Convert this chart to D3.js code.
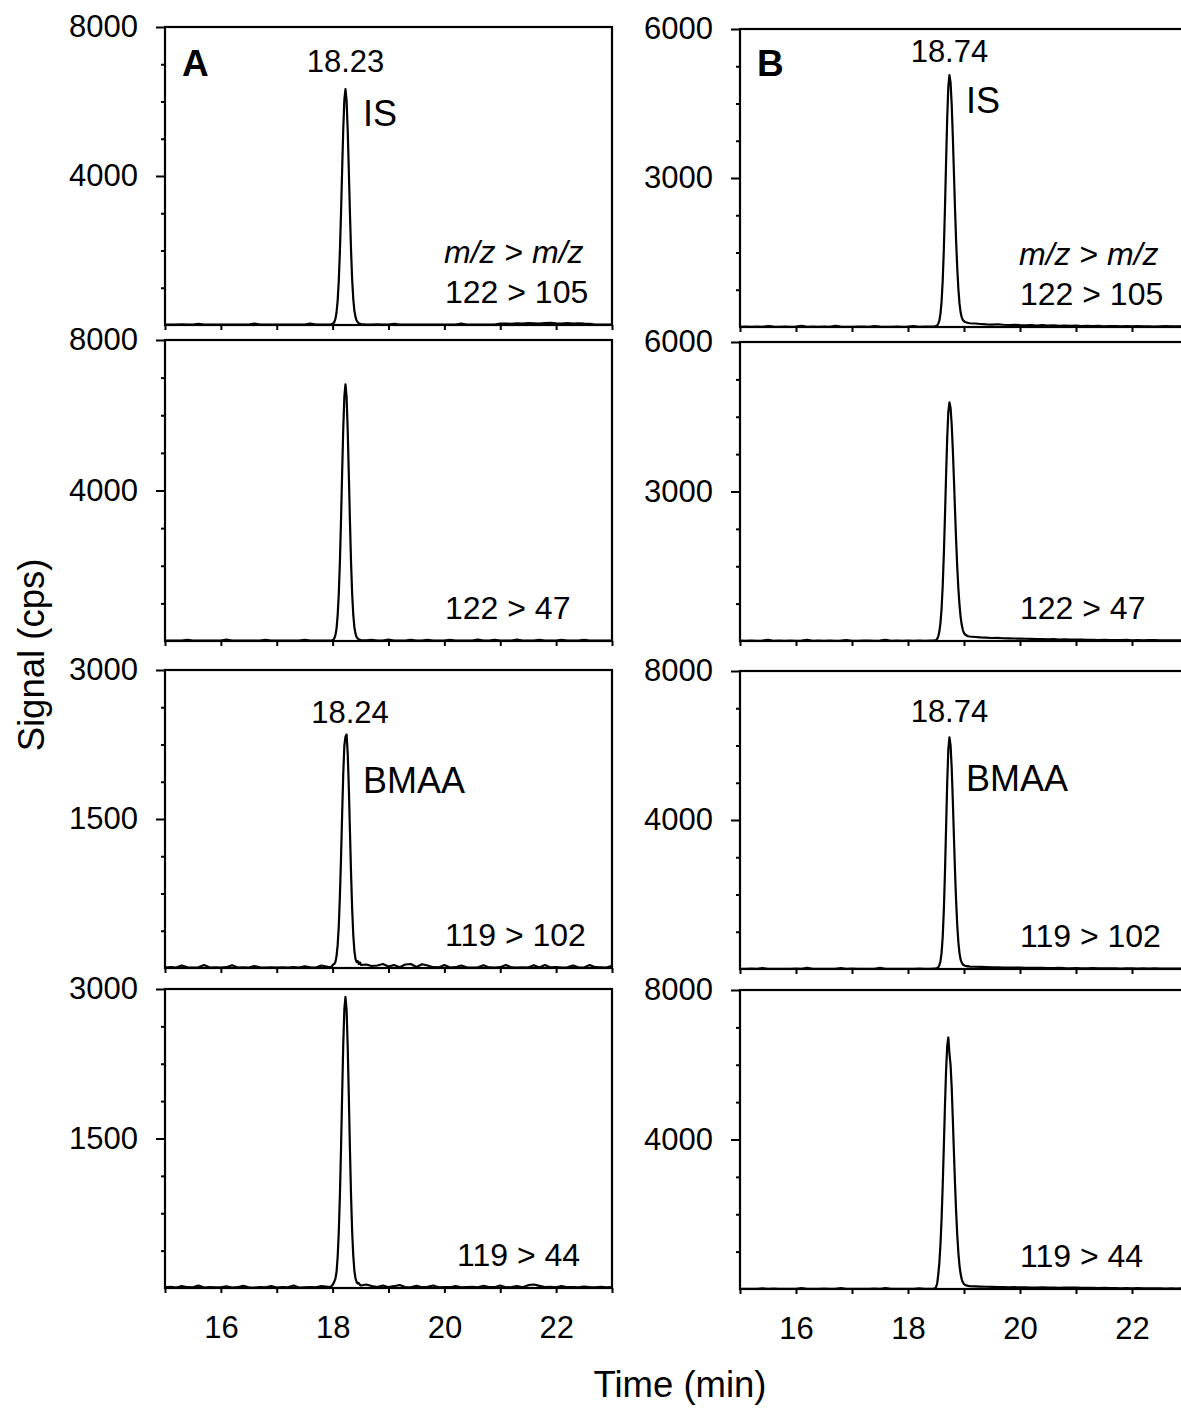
<!DOCTYPE html>
<html>
<head>
<meta charset="utf-8">
<script src="https://cdn.jsdelivr.net/npm/d3@7"></script>
<style>
  html, body { margin: 0; padding: 0; background: #fff; }
  svg { display: block; }
  text { font-family: "Liberation Sans", Arial, sans-serif; fill: #000; }
</style>
</head>
<body>
<svg id="chart" width="1181" height="1408"></svg>
<script>
// ---------- DATA ----------
const timeA = [15.0,15.1,15.2,15.3,15.4,15.5,15.6,15.7,15.8,15.9,16.0,16.1,16.2,16.3,16.4,16.5,16.6,16.7,16.8,16.9,17.0,17.1,17.2,17.3,17.4,17.5,17.6,17.7,17.8,
  17.95,17.97,17.99,18.01,18.03,18.05,18.07,18.09,18.11,18.13,18.15,18.17,18.19,18.21,18.23,18.25,18.27,18.29,18.31,18.33,18.35,18.37,18.39,18.41,18.43,18.45,18.47,18.49,18.51,
  18.6,18.7,18.8,18.9,19.0,19.1,19.2,19.3,19.4,19.5,19.6,19.7,19.8,19.9,20.0,20.1,20.2,20.3,20.4,20.5,20.6,20.7,20.8,20.9,21.0,21.1,21.2,21.3,21.4,21.5,21.6,21.7,21.8,21.9,22.0,22.1,22.2,22.3,22.4,22.5,22.6,22.7,22.8,22.9,23.0];

const timeB = [15.0,15.1,15.2,15.3,15.4,15.5,15.6,15.7,15.8,15.9,16.0,16.1,16.2,16.3,16.4,16.5,16.6,16.7,16.8,16.9,17.0,17.1,17.2,17.3,17.4,17.5,17.6,17.7,17.8,17.9,18.0,18.1,18.2,18.3,18.4,
  18.46,18.48,18.50,18.52,18.54,18.56,18.58,18.60,18.62,18.64,18.66,18.68,18.70,18.72,18.74,18.76,18.78,18.80,18.82,18.84,18.86,18.88,18.90,18.92,18.94,18.96,18.98,19.00,19.02,19.04,19.06,19.08,19.10,
  19.2,19.3,19.4,19.5,19.6,19.7,19.8,19.9,20.0,20.1,20.2,20.3,20.4,20.5,20.6,20.7,20.8,20.9,21.0,21.1,21.2,21.3,21.4,21.5,21.6,21.7,21.8,21.9,22.0,22.1,22.2,22.3,22.4,22.5,22.6,22.7,22.8,22.9,23.0];

// Column A (left) signals, cps
const sigA1 = [10,12,8,15,10,9,30,10,12,8,11,10,14,9,10,12,35,10,9,11,12,10,14,9,10,11,40,10,12,
  12,15,22,40,80,165,335,655,1185,1965,2990,4150,5250,6050,6330,6020,5230,4140,3000,1990,1210,690,380,210,120,75,45,30,22,
  12,10,15,9,11,30,10,12,9,10,14,11,10,12,9,13,10,35,12,10,11,9,14,12,35,40,32,45,38,50,42,36,48,55,45,40,50,38,44,35,30,12,10,9,11];
const sigA2 = [10,8,12,9,30,10,11,8,12,10,9,35,10,12,8,11,10,9,28,10,12,8,10,11,9,32,10,12,9,
  10,12,18,30,70,155,330,680,1250,2090,3200,4450,5630,6500,6820,6480,5600,4420,3180,2080,1240,690,360,190,105,65,45,30,20,
  15,30,12,10,35,11,9,12,30,10,11,28,9,12,10,32,11,9,12,10,40,11,12,30,9,12,10,35,11,10,12,30,9,11,10,28,12,10,9,30,11,10,12,9,10];
const sigA3 = [5,8,4,25,6,5,7,30,5,6,4,8,28,5,6,4,20,6,5,7,4,6,5,8,4,18,6,5,25,
  8,10,20,35,42,60,120,230,420,720,1100,1540,1950,2240,2330,2350,2160,1820,1380,950,590,330,170,90,60,70,40,55,30,
  35,20,25,40,15,30,8,35,40,10,38,25,8,6,30,5,8,25,6,5,7,28,6,5,8,30,6,5,7,4,28,5,30,6,8,5,7,25,6,5,30,8,6,5,22];
const sigA4 = [6,12,5,20,8,6,25,5,10,7,6,18,5,8,22,6,5,10,7,20,5,8,6,25,5,7,9,6,20,
  10,15,25,40,65,95,160,310,560,920,1390,1930,2440,2800,2920,2790,2420,1920,1390,920,560,320,170,95,60,45,50,30,25,
  35,20,10,25,8,18,30,10,6,22,8,12,25,6,10,8,20,6,9,12,7,22,10,8,25,6,10,20,8,28,35,22,10,12,6,20,8,10,6,15,8,6,12,7,10];

// Column B (right) signals, cps
const sigB1 = [5,6,4,8,5,20,6,5,7,4,6,25,5,6,4,7,5,22,6,5,4,6,8,5,20,6,5,4,7,5,6,20,5,6,8,
  10,12,18,30,65,130,265,515,940,1565,2390,3320,4200,4840,5070,4920,4490,3850,3110,2370,1710,1170,760,470,290,190,140,115,100,95,85,80,75,
  70,60,52,48,55,45,40,44,38,35,40,30,36,28,32,25,30,22,28,20,24,18,22,15,20,18,12,16,14,20,12,15,10,14,18,12,15,10,12];
const sigB2 = [6,5,8,4,6,22,5,7,4,6,5,8,25,5,6,4,7,5,6,20,5,4,7,6,5,8,22,5,6,4,7,5,6,5,8,
  10,12,20,40,90,190,365,660,1115,1740,2500,3320,4070,4600,4790,4680,4350,3850,3250,2610,2000,1470,1040,720,480,320,220,160,130,115,100,95,90,
  80,72,68,60,62,55,52,50,48,45,42,40,38,35,38,30,32,28,26,30,22,24,20,25,18,20,16,22,15,18,14,16,20,12,15,14,12,16,12];
const sigB3 = [6,5,8,4,25,6,5,7,4,6,8,5,30,6,4,7,5,6,22,5,8,6,4,7,5,28,6,5,4,7,6,5,8,5,6,
  10,8,15,25,45,100,210,440,870,1580,2580,3790,4990,5890,6220,6010,5410,4540,3560,2600,1790,1160,710,420,250,170,120,100,85,80,70,75,65,
  60,55,50,45,42,40,38,36,35,32,30,28,32,26,24,28,22,20,25,18,20,22,16,18,15,20,14,16,18,12,15,14,16,12,14,10,12,14,10];
const sigB4 = [5,7,4,6,20,5,8,4,6,5,7,25,5,6,4,8,5,6,22,5,7,4,6,5,8,5,25,6,4,7,5,6,20,5,6,
  10,20,50,140,380,700,1200,1890,2780,3820,4900,5850,6500,6730,6300,6000,5400,4560,3660,2800,2050,1430,960,620,400,260,180,130,110,95,90,80,75,
  70,65,60,55,52,50,46,48,42,44,40,38,42,36,40,34,38,35,40,32,30,28,25,30,22,26,20,24,18,22,16,20,15,18,14,16,12,15,12];

// Axis domains and tick labels
const xDomain = [15, 23];
const xTickLabels = [16, 18, 20, 22];
const xTicksAll = [15, 16, 17, 18, 19, 20, 21, 22, 23];
const yMaxA = [8000, 8000, 3000, 3000];
const yMaxB = [6000, 6000, 8000, 8000];
const yMajorA = [[4000, 8000], [4000, 8000], [1500, 3000], [1500, 3000]];
const yMajorB = [[3000, 6000], [3000, 6000], [4000, 8000], [4000, 8000]];
const yMinorStepA = [1000, 1000, 375, 375];
const yMinorStepB = [750, 750, 1000, 1000];
const transitionsA = ["122 > 105", "122 > 47", "119 > 102", "119 > 44"];
const transitionsB = ["122 > 105", "122 > 47", "119 > 102", "119 > 44"];
const rtA = [18.23, null, 18.24, null];
const rtB = [18.74, null, 18.74, null];
const compound = ["IS", null, "BMAA", null];

// ---------- LAYOUT ----------
const svg = d3.select("#chart");
const FONT = '"Liberation Sans", Arial, sans-serif';
const colX = { A: [165, 612], B: [740, 1188] };
const rowsA = [[27, 325], [340, 641], [670, 968], [989, 1288]];
const rowsB = [[29, 327], [342, 641], [671, 969], [990, 1289]];

function drawPanel(col, i) {
  const isA = col === "A";
  const [x0, x1] = colX[col];
  const [top, bot] = (isA ? rowsA : rowsB)[i];
  const times = isA ? timeA : timeB;
  const sig = (isA ? [sigA1, sigA2, sigA3, sigA4] : [sigB1, sigB2, sigB3, sigB4])[i];
  const yMax = (isA ? yMaxA : yMaxB)[i];
  const major = (isA ? yMajorA : yMajorB)[i];
  const step = (isA ? yMinorStepA : yMinorStepB)[i];

  const x = d3.scaleLinear().domain(xDomain).range([x0, x1]);
  const y = d3.scaleLinear().domain([0, yMax]).range([bot, top]);
  const g = svg.append("g");

  // minor y ticks
  const minor = d3.range(step, yMax, step).filter(v => !major.includes(v));
  g.append("g").attr("transform", `translate(${x0},0)`)
    .call(d3.axisLeft(y).tickValues(minor).tickSize(4).tickFormat(""))
    .call(a => a.select(".domain").remove())
    .call(a => a.selectAll("line").attr("stroke", "#000").attr("stroke-width", 2));
  // major y ticks + labels
  g.append("g").attr("transform", `translate(${x0},0)`)
    .call(d3.axisLeft(y).tickValues(major).tickSize(9).tickPadding(18).tickFormat(d3.format("d")))
    .call(a => a.select(".domain").remove())
    .call(a => a.selectAll("line").attr("stroke", "#000").attr("stroke-width", 2))
    .call(a => a.selectAll("text").attr("font-family", FONT).attr("font-size", 31).attr("fill", "#000"));

  // x ticks (bottom)
  g.append("g").attr("transform", `translate(0,${bot})`)
    .call(d3.axisBottom(x).tickValues(xTicksAll).tickSize(5).tickPadding(23)
      .tickFormat(d => (i === 3 && xTickLabels.includes(d)) ? d : ""))
    .call(a => a.select(".domain").remove())
    .call(a => a.selectAll("line").attr("stroke", "#000").attr("stroke-width", 2))
    .call(a => a.selectAll("text").attr("font-family", FONT).attr("font-size", 31).attr("fill", "#000"));

  // data line
  const data = times.map((t, k) => [t, sig[k]]).filter(d => d[1] !== undefined);
  g.append("path").datum(data)
    .attr("fill", "none").attr("stroke", "#000").attr("stroke-width", 2.2)
    .attr("stroke-linejoin", "round")
    .attr("d", d3.line().x(d => x(d[0])).y(d => y(d[1])));

  // frame
  g.append("rect").attr("x", x0).attr("y", top).attr("width", x1 - x0).attr("height", bot - top)
    .attr("fill", "none").attr("stroke", "#000").attr("stroke-width", 2.2);

  // annotations
  const tr = (isA ? transitionsA : transitionsB)[i];
  const tx = isA ? 445 : 1020;
  const txStart = (isA && i === 3) ? 457 : tx;
  g.append("text").attr("x", txStart).attr("y", bot - 22).attr("font-size", 32).text(tr);
  if (i === 0) {
    const mz = g.append("text").attr("x", tx - 1).attr("y", top + 236).attr("font-size", 32);
    mz.append("tspan").attr("font-style", "italic").text("m/z");
    mz.append("tspan").text(" > ");
    mz.append("tspan").attr("font-style", "italic").text("m/z");
    g.append("text").attr("x", isA ? 182 : 757).attr("y", isA ? top + 49 : top + 47)
      .attr("font-size", 37).attr("font-weight", "bold").text(isA ? "A" : "B");
  }
  const rt = (isA ? rtA : rtB)[i];
  if (rt !== null) {
    let ry, cy;
    if (isA) { ry = i === 0 ? 72 : 723; cy = i === 0 ? 126 : 793; }
    else { ry = i === 0 ? 62 : 722; cy = i === 0 ? 113 : 791; }
    g.append("text").attr("x", x(rt) + (isA && i === 2 ? 4 : 0)).attr("y", ry)
      .attr("text-anchor", "middle").attr("font-size", 31).text(rt.toFixed(2));
    g.append("text").attr("x", isA ? 363 : 966).attr("y", cy)
      .attr("font-size", 36).text(compound[i]);
  }
}

for (let i = 0; i < 4; i++) { drawPanel("A", i); drawPanel("B", i); }

// axis titles
svg.append("text").attr("x", 680).attr("y", 1397).attr("text-anchor", "middle")
  .attr("font-size", 36.5).text("Time (min)");
svg.append("text").attr("transform", "translate(44,655) rotate(-90)").attr("text-anchor", "middle")
  .attr("font-size", 36.5).text("Signal (cps)");
</script>
</body>
</html>
